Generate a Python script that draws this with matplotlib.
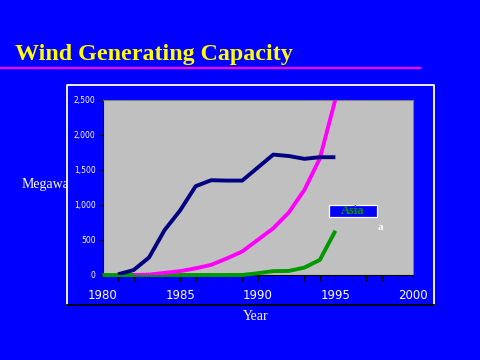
import matplotlib
matplotlib.use("Agg")
import matplotlib.pyplot as plt
from matplotlib.patches import Rectangle
from matplotlib.lines import Line2D

title = "Wind Generating Capacity"
ylabel = "Megawatts"
xlabel = "Year"
legend_label = "Asia"

years_navy = [1981, 1982, 1983, 1984, 1985, 1986, 1987, 1988, 1989, 1990, 1991, 1992, 1993, 1994, 1995]
navy_vals = [10, 70, 250, 640, 920, 1265, 1350, 1345, 1345, 1530, 1715, 1695, 1655, 1678, 1678]

years_mag = [1982, 1983, 1984, 1985, 1986, 1987, 1988, 1989, 1990, 1991, 1992, 1993, 1994, 1995]
mag_vals = [0, 5, 30, 55, 95, 145, 235, 335, 500, 665, 890, 1210, 1660, 2500]

years_green = [1980, 1981, 1982, 1983, 1984, 1985, 1986, 1987, 1988, 1989, 1990, 1991, 1992, 1993, 1994, 1995]
green_vals = [0, 0, 0, 0, 0, 0, 0, 0, 0, 0, 25, 55, 58, 105, 215, 630]

xticks = [1980, 1985, 1990, 1995, 2000]
yticks = [0, 500, 1000, 1500, 2000, 2500]
ytick_labels = ["0", "500", "1,000", "1,500", "2,000", "2,500"]

W, H = 480, 360
BLUE = "#0000FF"
fig = plt.figure(figsize=(4.8, 3.6), dpi=100, facecolor=BLUE)

def fx(px):
    return px / W

def fy(py):
    return 1 - py / H

# Title and underline
fig.text(fx(15), fy(60), title, color="#FFFF00", fontsize=17.3, fontweight="bold",
         family="Liberation Serif", ha="left", va="baseline")
fig.add_artist(Line2D([0, fx(420)], [fy(68), fy(68)], color="#FF00FF", lw=1.6))

# Y label (partly hidden by chart frame)
fig.text(fx(22), fy(185), ylabel, color="white", fontsize=10, family="Liberation Serif",
         ha="left", va="center", zorder=0)

# Chart frame
frame = Rectangle((fx(67), fy(305)), fx(434) - fx(67), fy(84) - fy(305),
                  transform=fig.transFigure, facecolor=BLUE, edgecolor="none", zorder=1)
fig.add_artist(frame)
fig.add_artist(Line2D([fx(67), fx(67), fx(434), fx(434)], [fy(305), fy(84.5), fy(84.5), fy(305)],
                      color="white", lw=1.3, zorder=1.1))
fig.add_artist(Line2D([fx(67), fx(434)], [fy(305), fy(305)], color="black", lw=1.3, zorder=1.1))

# Axes
ax = fig.add_axes([fx(102.5), fy(275), fx(413) - fx(102.5), fy(99.5) - fy(275)], zorder=2)
ax.set_facecolor("#C0C0C0")
ax.set_xlim(1980, 2000)
ax.set_ylim(0, 2500)

ax.plot(years_green, green_vals, color="#009900", lw=2.8, clip_on=False, solid_capstyle="butt", zorder=3)
ax.plot(years_mag, mag_vals, color="#FF00FF", lw=2.8, solid_capstyle="butt", zorder=4)
ax.plot(years_navy, navy_vals, color="#000080", lw=2.8, solid_capstyle="butt", zorder=5)

for s in ["top", "right"]:
    ax.spines[s].set_color("#808080")
    ax.spines[s].set_linewidth(0.8)
for s in ["left", "bottom"]:
    ax.spines[s].set_color("black")
    ax.spines[s].set_linewidth(0.8)

ax.set_xticks(xticks)
ax.set_xticks(list(range(1980, 2001)), minor=True)
ax.tick_params(axis="x", which="both", direction="out", length=4, width=0.8, color="black",
               labelcolor="white", labelsize=8.5, pad=6)
ax.set_xticklabels([str(x) for x in xticks])
ax.set_yticks(yticks)
ax.set_yticklabels(ytick_labels)
ax.tick_params(axis="y", direction="out", length=3, width=0.8, color="black",
               labelcolor="white", labelsize=5.5, pad=2)

# Legend-like box
fig.add_artist(Rectangle((fx(329), fy(217)), fx(377) - fx(329), fy(205) - fy(217),
                         transform=fig.transFigure, facecolor=BLUE, edgecolor="white", lw=0.9, zorder=6))
fig.text(fx(353), fy(211), legend_label, color="#009900", fontsize=9, fontweight="bold",
         family="Liberation Serif", ha="center", va="center", zorder=7)
fig.text(fx(380), fy(227), "a", color="white", fontsize=8, fontweight="bold",
         family="Liberation Serif", ha="center", va="center", zorder=7)

fig.text(fx(256), fy(317), xlabel, color="white", fontsize=10, family="Liberation Serif",
         ha="center", va="center")

fig.savefig("out.png", dpi=100, facecolor=BLUE)
